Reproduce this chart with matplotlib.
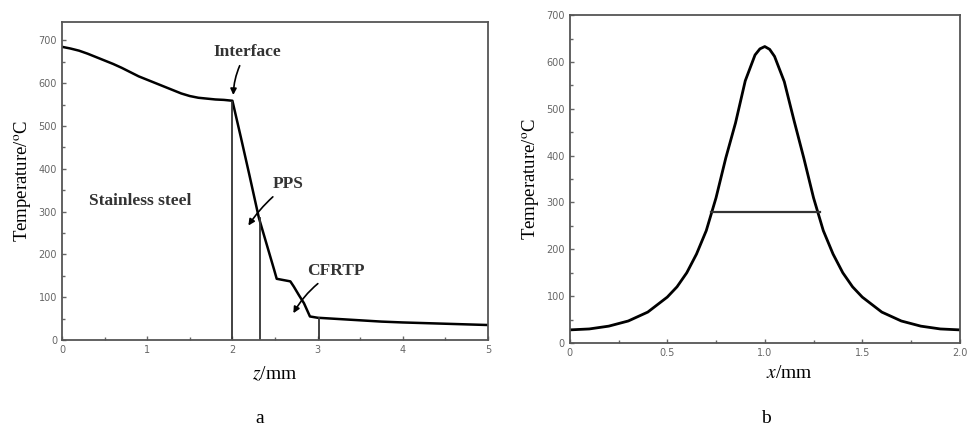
import matplotlib.pyplot as plt
from matplotlib.ticker import MultipleLocator

plt.rcParams["font.family"] = ["Liberation Serif", "DejaVu Serif"]
plt.rcParams["mathtext.fontset"] = "stix"

# panel a: temperature along depth z
z = [0, 0.1, 0.2, 0.3, 0.4, 0.5, 0.6, 0.7, 0.8, 0.9, 1.0, 1.1, 1.2, 1.3, 1.4,
     1.5, 1.6, 1.7, 1.8, 1.9, 2.0, 2.1, 2.2, 2.31, 2.4, 2.49, 2.52, 2.6, 2.68,
     2.72, 2.78, 2.84, 2.91, 3.0, 3.25, 3.5, 3.75, 4.0, 4.5, 5.0]
temp_z = [685, 681, 676, 669, 661, 653, 645, 636, 626, 616, 608, 600, 592, 584,
          576, 570, 566, 564, 562, 561, 559, 473, 385, 286, 225, 164, 143, 140,
          137, 125, 105, 86, 55, 52, 49, 46, 43, 41, 38, 35]
layer_z = [2.0, 2.32, 3.02]
layer_top = [557, 284, 52]

# panel b: temperature across x
x = [0, 0.1, 0.2, 0.3, 0.4, 0.5, 0.55, 0.6, 0.65, 0.7, 0.75, 0.8, 0.85, 0.9,
     0.95, 0.975, 1.0, 1.025, 1.05, 1.1, 1.15, 1.2, 1.25, 1.3, 1.35, 1.4,
     1.45, 1.5, 1.6, 1.7, 1.8, 1.9, 2.0]
temp_x = [28, 30, 36, 47, 66, 98, 120, 150, 190, 240, 310, 395, 470, 560,
          615, 628, 633, 627, 612, 558, 475, 395, 310, 240, 190, 150,
          120, 98, 66, 47, 36, 30, 28]
half_x = [0.726, 1.282]
half_t = 280

fig = plt.figure(figsize=(9.69, 4.28), dpi=100)
ax1 = fig.add_axes([0.064, 0.2056, 0.4396, 0.743])
ax2 = fig.add_axes([0.588, 0.1986, 0.4025, 0.766])

ax1.plot(z, temp_z, color="black", lw=1.8)
for zz, tt in zip(layer_z, layer_top):
    ax1.plot([zz, zz], [0, tt], color="#333333", lw=1.3)
ax1.set_xlim(0, 5)
ax1.set_ylim(0, 743)
ax1.xaxis.set_major_locator(MultipleLocator(1))
ax1.xaxis.set_minor_locator(MultipleLocator(0.5))
ax1.yaxis.set_major_locator(MultipleLocator(100))
ax1.yaxis.set_minor_locator(MultipleLocator(50))
ax1.set_xlabel(r"$z$/mm", fontsize=14, labelpad=7)
ax1.set_ylabel(r"Temperature/$^{\rm o}$C", fontsize=13.5, labelpad=3)

txt = dict(fontsize=12.5, fontweight="bold", ha="center", va="center",
           color="#333333")
ax1.text(0.92, 325, "Stainless steel", **txt)
arrow = dict(arrowstyle="-|>", color="black", lw=1.2, mutation_scale=9,
             shrinkA=2, connectionstyle="arc3,rad=0.15")
ax1.annotate("Interface", xy=(2.01, 566), xytext=(2.17, 672),
             arrowprops=arrow, **txt)
ax1.annotate("PPS", xy=(2.17, 262), xytext=(2.66, 364),
             arrowprops=dict(arrow, connectionstyle="arc3,rad=0.1"), **txt)
ax1.annotate("CFRTP", xy=(2.7, 57), xytext=(3.22, 161),
             arrowprops=dict(arrow, connectionstyle="arc3,rad=0.15"), **txt)

ax2.plot(x, temp_x, color="black", lw=2)
ax2.plot(half_x, [half_t, half_t], color="#333333", lw=1.6)
ax2.set_xlim(0, 2.0)
ax2.set_ylim(0, 700)
ax2.xaxis.set_minor_locator(MultipleLocator(0.25))
ax2.yaxis.set_major_locator(MultipleLocator(100))
ax2.yaxis.set_minor_locator(MultipleLocator(50))
ax2.set_xticks([0, 0.5, 1.0, 1.5, 2.0])
ax2.set_xticklabels(["0", "0.5", "1.0", "1.5", "2.0"])
ax2.set_xlabel(r"$x$/mm", fontsize=14)
ax2.xaxis.set_label_coords(0.564, -0.068)
ax2.set_ylabel(r"Temperature/$^{\rm o}$C", fontsize=13.5, labelpad=3)

for ax in (ax1, ax2):
    for s in ax.spines.values():
        s.set_color("#555555")
        s.set_linewidth(1.3)
    ax.tick_params(which="both", direction="in", color="#666666",
                   labelsize=7, labelcolor="#666666", width=1)
    ax.tick_params(which="major", length=3)
    ax.tick_params(which="minor", length=2)
    for lab in ax.get_xticklabels() + ax.get_yticklabels():
        lab.set_family("DejaVu Sans")

fig.text(0.268, 0.022, "a", fontsize=14, ha="center", va="center")
fig.text(0.79, 0.022, "b", fontsize=14, ha="center", va="center")

fig.savefig("out.png", dpi=100)
